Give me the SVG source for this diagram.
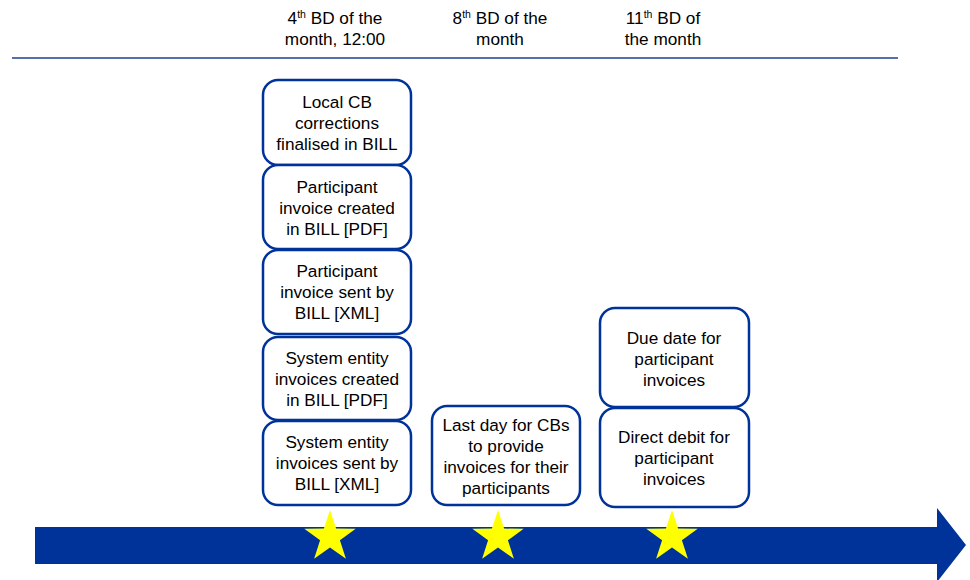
<svg xmlns="http://www.w3.org/2000/svg" width="970" height="580" viewBox="0 0 970 580">
<style>
text{font-family:"Liberation Sans",Arial,sans-serif;font-size:17.2px;fill:#000;text-anchor:middle}
.sup{font-size:10.5px}
.box{fill:#fff;stroke:#003399;stroke-width:2.5}
</style>
<defs>
<polygon id="star" points="0,-27 6.1,-8.4 25.7,-8.3 9.9,3.2 15.9,21.8 0,10.4 -15.9,21.8 -9.9,3.2 -25.7,-8.3 -6.1,-8.4" fill="#ffff00"/>
</defs>
<rect width="970" height="580" fill="#fff"/>
<g id="header">
<text x="335" y="24">4<tspan class="sup" dy="-6">th</tspan><tspan dy="6"> BD of the</tspan></text>
<text x="335" y="45">month, 12:00</text>
<text x="500" y="24">8<tspan class="sup" dy="-6">th</tspan><tspan dy="6"> BD of the</tspan></text>
<text x="500" y="45">month</text>
<text x="663" y="24">11<tspan class="sup" dy="-6">th</tspan><tspan dy="6"> BD of</tspan></text>
<text x="663" y="45">the month</text>
<line x1="12" y1="58" x2="898" y2="58" stroke="#1f3f8f" stroke-width="1.3"/>
</g>
<g id="timeline">
<path d="M35,527 H937 V508 L966,545 L937,582 V564 H35 Z" fill="#003399"/>
<use href="#star" x="330" y="537"/>
<use href="#star" x="498" y="537"/>
<use href="#star" x="672" y="537"/>
</g>
<g id="connectors"></g>
<g id="n1"><rect class="box" x="263" y="80" width="148" height="85" rx="15"/>
<text x="337" y="108">Local CB</text><text x="337" y="129">corrections</text><text x="337" y="150">finalised in BILL</text></g>
<g id="n2"><rect class="box" x="263" y="165" width="148" height="84" rx="15"/>
<text x="337" y="193">Participant</text><text x="337" y="214">invoice created</text><text x="337" y="235">in BILL [PDF]</text></g>
<g id="n3"><rect class="box" x="263" y="250" width="148" height="84" rx="15"/>
<text x="337" y="277">Participant</text><text x="337" y="298">invoice sent by</text><text x="337" y="319">BILL [XML]</text></g>
<g id="n4"><rect class="box" x="263" y="337" width="148" height="83" rx="15"/>
<text x="337" y="364">System entity</text><text x="337" y="385">invoices created</text><text x="337" y="406">in BILL [PDF]</text></g>
<g id="n5"><rect class="box" x="263" y="421" width="148" height="84" rx="15"/>
<text x="337" y="448">System entity</text><text x="337" y="469">invoices sent by</text><text x="337" y="490">BILL [XML]</text></g>
<g id="n6"><rect class="box" x="432" y="406" width="148" height="99" rx="15"/>
<text x="506" y="431">Last day for CBs</text><text x="506" y="452">to provide</text><text x="506" y="473">invoices for their</text><text x="506" y="494">participants</text></g>
<g id="n7"><rect class="box" x="600" y="308" width="149" height="99" rx="15"/>
<text x="674" y="344">Due date for</text><text x="674" y="365">participant</text><text x="674" y="386">invoices</text></g>
<g id="n8"><rect class="box" x="600" y="408" width="149" height="99" rx="15"/>
<text x="674" y="443">Direct debit for</text><text x="674" y="464">participant</text><text x="674" y="485">invoices</text></g>
</svg>
